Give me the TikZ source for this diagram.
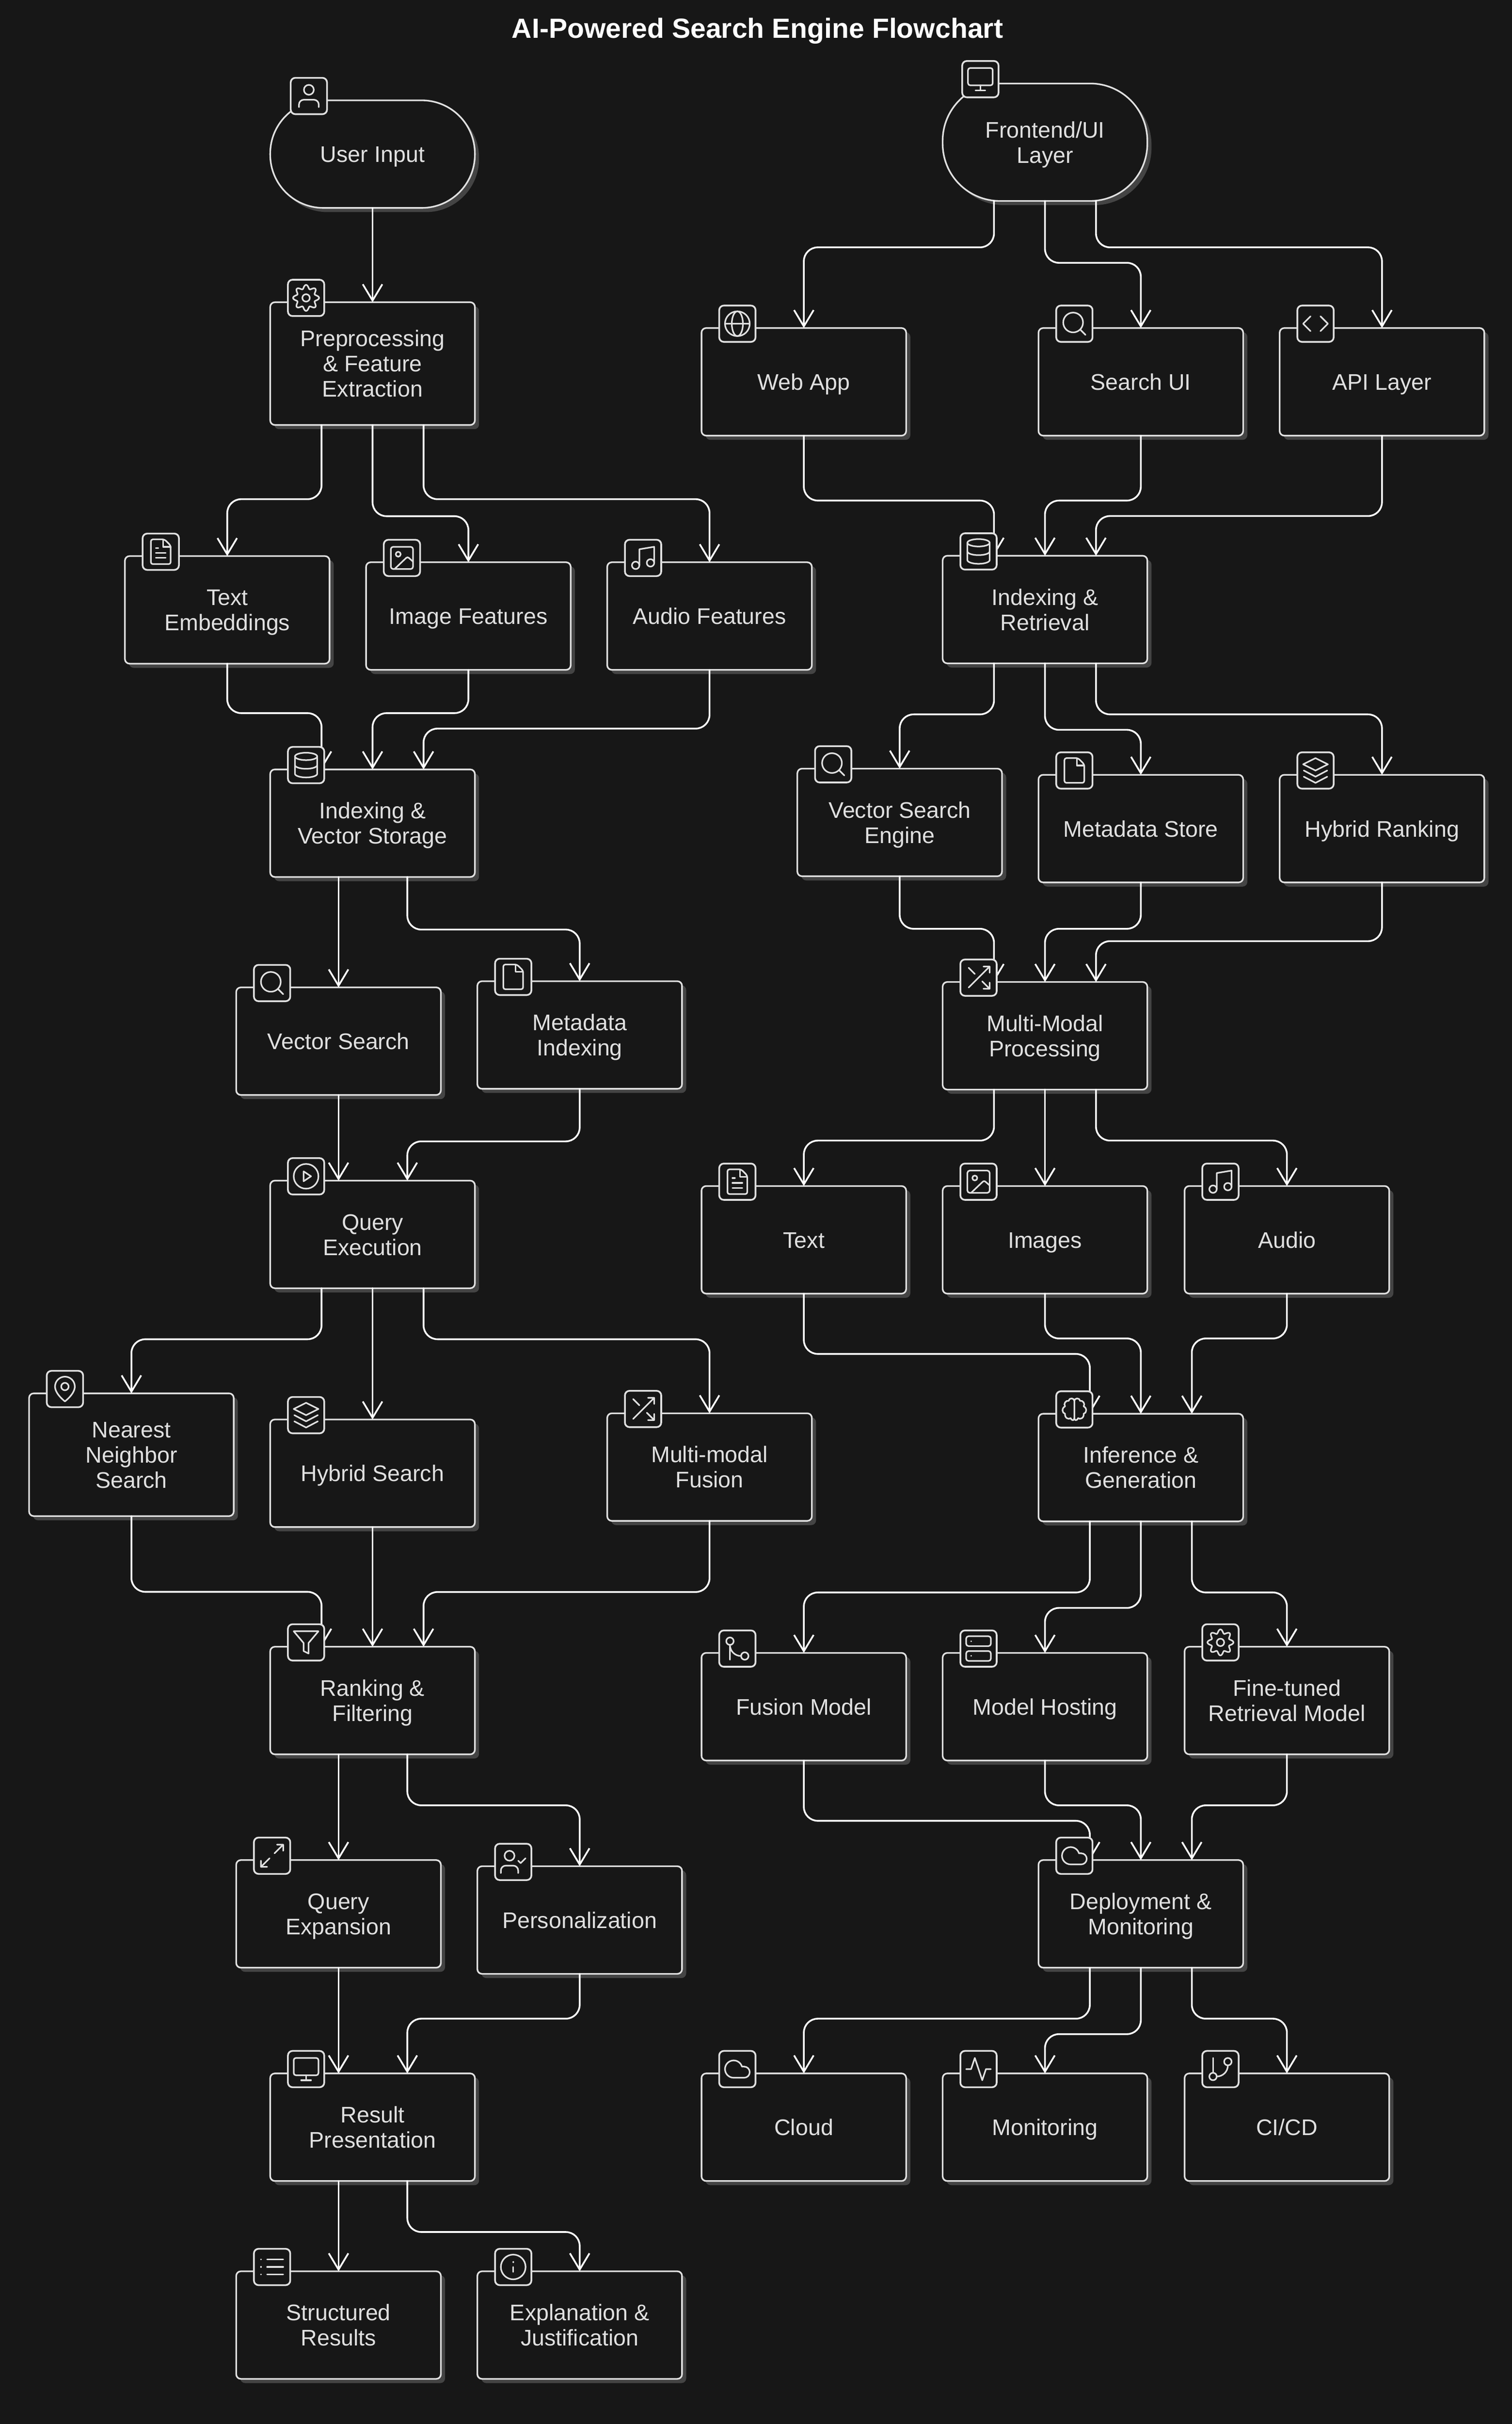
\documentclass[tikz,border=0pt]{standalone}
\usepackage{fontspec}
\setmainfont{Liberation Sans}
\usetikzlibrary{arrows.meta,shadows}
\definecolor{bgdark}{HTML}{171717}
\definecolor{inkline}{HTML}{E0E0E0}
\definecolor{shadegray}{HTML}{444444}
\newcommand{\captop}{\rule{0pt}{20pt}}
\newcommand{\capfoot}{\rule[-5pt]{0pt}{5pt}}
\tikzset{
  box/.style={draw=inkline, fill=bgdark, line width=1.5pt, rounded corners=.15cm, outer sep=0pt, inner sep=0pt,
    minimum width=6.62cm, minimum height=3.48cm, align=center, text=inkline,
    font=\fontsize{20.8}{23.2}\selectfont,
    execute at begin node=\captop, execute at end node=\capfoot,
    general shadow={fill=shadegray, shadow xshift=.135cm, shadow yshift=-.135cm}},
  tall/.style={minimum height=3.97cm},
  pill/.style={box, rounded corners=1.72cm},
  badge/.style={draw=inkline, fill=bgdark, line width=1.6pt, rounded corners=.15cm, outer sep=0pt,
    inner sep=0pt, minimum width=1.175cm, minimum height=1.175cm},
  flow/.style={draw=white, line width=1.6pt, line cap=round, rounded corners=.45cm, ->},
  glyph/.style={scale=.8, shift={(-12,-12)}, draw=inkline, line width=1.45pt, line cap=round, line join=round},
  pics/person/.style={code={
    \draw (12,7) circle (4);
    \draw[rounded corners=4.5pt] (4,21) -- (4,15) -- (20,15) -- (20,21);}},
  pics/gear/.style={code={
    \draw (12,12) circle (3);
    \draw[shift={(12,12)}, domain=0:360, samples=145, smooth] plot (\x:{9+1.5*cos(8*\x)}) -- cycle;}},
  pics/monitor/.style={code={
    \draw[rounded corners=2pt] (2,3) rectangle (22,17);
    \draw (8,21) -- (16,21) (12,17) -- (12,21);}},
  pics/globe/.style={code={
    \draw (12,12) circle (10) (2,12) -- (22,12);
    \draw (12,12) ellipse [x radius=4.5, y radius=10];}},
  pics/lens/.style={code={
    \draw (11,11) circle (8) (21,21) -- (16.65,16.65);}},
  pics/codemark/.style={code={
    \draw (16,18) -- (22,12) -- (16,6) (8,6) -- (2,12) -- (8,18);}},
  pics/page/.style={code={
    \draw[rounded corners=1.8pt] (15,2) -- (4,2) -- (4,22) -- (20,22) -- (20,7) -- cycle;
    \draw (14,2) -- (14,8) -- (20,8);}},
  pics/pagetext/.style={code={
    \draw[rounded corners=1.8pt] (15,2) -- (4,2) -- (4,22) -- (20,22) -- (20,7) -- cycle;
    \draw (14,2) -- (14,8) -- (20,8) (8,9) -- (10,9) (8,13) -- (16,13) (8,17) -- (16,17);}},
  pics/photo/.style={code={
    \draw[rounded corners=2.2pt] (3,3) rectangle (21,21);
    \draw (9,9) circle (2);
    \draw[rounded corners=1.5pt] (21,15) -- (16.5,11) -- (6,21);}},
  pics/music/.style={code={
    \draw (9,18) -- (9,5) -- (21,3) -- (21,16);
    \draw (6,18) circle (3) (18,16) circle (3);}},
  pics/dbase/.style={code={
    \draw (12,5) ellipse [x radius=9, y radius=3];
    \draw (3,5) -- (3,19) arc (180:0:9 and 3) -- (21,5);
    \draw (3,12) arc (180:0:9 and 3);}},
  pics/stack/.style={code={
    \draw (12,2) -- (22,7) -- (12,12) -- (2,7) -- cycle;
    \draw (2.5,12) -- (12,17) -- (21.5,12) (2.5,17) -- (12,22) -- (21.5,17);}},
  pics/shuffle/.style={code={
    \draw (4,20) -- (21,3) (16,3) -- (21,3) -- (21,8);
    \draw (4,4) -- (9,9) (15,15) -- (21,21) (21,16) -- (21,21) -- (16,21);}},
  pics/playround/.style={code={
    \draw (12,12) circle (10);
    \draw (10,8) -- (16,12) -- (10,16) -- cycle;}},
  pics/mappin/.style={code={
    \draw (20,10) .. controls (20,16) and (12,22) .. (12,22) .. controls (12,22) and (4,16) .. (4,10) arc (180:360:8) -- cycle;
    \draw (12,10) circle (3);}},
  pics/brain/.style={code={
    \draw (12,5) .. controls (12,3) and (16,2) .. (16.5,5) .. controls (19,4.5) and (21,7.5) .. (19.5,9.5)
      .. controls (22.5,11) and (22,15) .. (19.5,15.5) .. controls (20,19) and (16.5,20.5) .. (15,19)
      .. controls (14,21.5) and (12,21) .. (12,19) -- cycle;
    \draw (12,5) .. controls (12,3) and (8,2) .. (7.5,5) .. controls (5,4.5) and (3,7.5) .. (4.5,9.5)
      .. controls (1.5,11) and (2,15) .. (4.5,15.5) .. controls (4,19) and (7.5,20.5) .. (9,19)
      .. controls (10,21.5) and (12,21) .. (12,19);}},
  pics/funnel/.style={code={
    \draw (22,3) -- (2,3) -- (10,12.46) -- (10,19) -- (14,21) -- (14,12.46) -- cycle;}},
  pics/gitmerge/.style={code={
    \draw (18,18) circle (3) (6,6) circle (3);
    \draw (6,21) -- (6,9) .. controls (6,14) and (10,18) .. (15,18);}},
  pics/serverbox/.style={code={
    \draw[rounded corners=2.2pt] (2,2) rectangle (22,10);
    \draw[rounded corners=2.2pt] (2,14) rectangle (22,22);
    \draw (6,6) -- (6.1,6) (6,18) -- (6.1,18);}},
  pics/cloudy/.style={code={
    \draw (17.5,19) -- (9,19) arc (90:343.4:7) -- (17.5,10) arc (270:450:4.5) -- cycle;}},
  pics/expand/.style={code={
    \draw (14,10) -- (21,3) (16,3) -- (21,3) -- (21,8);
    \draw (10,14) -- (3,21) (3,16) -- (3,21) -- (8,21);}},
  pics/usercheck/.style={code={
    \draw (9,7) circle (4);
    \draw[rounded corners=4.5pt] (2,21) -- (2,15) -- (16,15) -- (16,21);
    \draw (16,11) -- (18,13) -- (22,9);}},
  pics/listing/.style={code={
    \draw (8,6) -- (21,6) (8,12) -- (21,12) (8,18) -- (21,18);
    \draw (3,6) -- (3.1,6) (3,12) -- (3.1,12) (3,18) -- (3.1,18);}},
  pics/infomark/.style={code={
    \draw (12,12) circle (10);
    \draw (12,16) -- (12,12) (12,8) -- (12.1,8);}},
  pics/pulse/.style={code={
    \draw (22,12) -- (18,12) -- (15,21) -- (9,3) -- (6,12) -- (2,12);}},
  pics/gitbranch/.style={code={
    \draw (6,3) -- (6,15);
    \draw (18,6) circle (3) (6,18) circle (3);
    \draw (18,9) .. controls (18,14) and (14,18) .. (9,18);}},
}
\newcommand{\badge}[3][1.16cm]{%
  \node (#2-b) at ([xshift=#1,yshift=.14cm]#2.north west) [badge] {};
  \pic at (#2-b) [glyph] {#3};}
\begin{document}
\begin{tikzpicture}[x=.05cm, y=-.05cm, >={Straight Barb[length=15pt,width=18pt]}]
\fill[bgdark] (0,0) rectangle (978.1,1568);
\node (title) at (490,20) [text=white, font=\fontsize{25.5}{28}\selectfont\bfseries] {AI-Powered Search Engine Flowchart};

% left column
\node (user) at (241,99.7) [pill] {User Input};
\node (prep) at (241,235.2) [box, tall] {\captop Preprocessing\\\& Feature\\Extraction\capfoot};
\node (txtemb) at (147,394.5) [box] {\captop Text\\Embeddings\capfoot};
\node (imgf) at (303,398.5) [box] {Image Features};
\node (audf) at (459,398.5) [box] {Audio Features};
\node (idxv) at (241,532.5) [box] {\captop Indexing \&\\Vector Storage\capfoot};
\node (vecs) at (219,673.5) [box] {Vector Search};
\node (meta) at (375,669.5) [box] {\captop Metadata\\Indexing\capfoot};
\node (qexe) at (241,798.5) [box] {\captop Query\\Execution\capfoot};
\node (near) at (85,941) [box, tall] {\captop Nearest\\Neighbor\\Search\capfoot};
\node (hyb) at (241,953) [box] {Hybrid Search};
\node (mfus) at (459,949) [box] {\captop Multi-modal\\Fusion\capfoot};
\node (rank) at (241,1100) [box] {\captop Ranking \&\\Filtering\capfoot};
\node (qexp) at (219,1238) [box] {\captop Query\\Expansion\capfoot};
\node (pers) at (375,1242) [box] {Personalization};
\node (res) at (241,1376) [box] {\captop Result\\Presentation\capfoot};
\node (struct) at (219,1504) [box] {\captop Structured\\Results\capfoot};
\node (expl) at (375,1504) [box] {\captop Explanation \&\\Justification\capfoot};

% right column
\node (front) at (676,92) [pill, minimum height=3.8cm, rounded corners=1.85cm] {\captop Frontend/UI\\Layer\capfoot};
\node (web) at (520,247) [box] {Web App};
\node (sui) at (738,247) [box] {Search UI};
\node (api) at (894,247) [box] {API Layer};
\node (idxr) at (676,394.3) [box] {\captop Indexing \&\\Retrieval\capfoot};
\node (vse) at (582,532) [box] {\captop Vector Search\\Engine\capfoot};
\node (mst) at (738,536) [box] {Metadata Store};
\node (hrk) at (894,536) [box] {Hybrid Ranking};
\node (mmp) at (676,670) [box] {\captop Multi-Modal\\Processing\capfoot};
\node (txt) at (520,802) [box] {Text};
\node (img) at (676,802) [box] {Images};
\node (aud) at (832.5,802) [box] {Audio};
\node (inf) at (738,949.3) [box] {\captop Inference \&\\Generation\capfoot};
\node (fus) at (520,1104) [box] {Fusion Model};
\node (host) at (676,1104) [box] {Model Hosting};
\node (fine) at (832.5,1100) [box] {\captop Fine-tuned\\Retrieval Model\capfoot};
\node (dep) at (738,1238) [box] {\captop Deployment \&\\Monitoring\capfoot};
\node (cld) at (520,1376) [box] {Cloud};
\node (mon) at (676,1376) [box] {Monitoring};
\node (cicd) at (832.5,1376) [box] {CI/CD};

% left column links
\draw[flow] (user.south) -- (prep.north);
\draw[flow] ([xshift=-1.65cm]prep.south) -- ++(0,48) -| (txtemb.north);
\draw[flow] (prep.south) -- ++(0,59) -| (imgf.north);
\draw[flow] ([xshift=1.65cm]prep.south) -- ++(0,48) -| (audf.north);
\draw[flow] (txtemb.south) -- ++(0,32) -| ([xshift=-1.65cm]idxv.north);
\draw[flow] (imgf.south) -- ++(0,28) -| (idxv.north);
\draw[flow] (audf.south) -- ++(0,38) -| ([xshift=1.65cm]idxv.north);
\draw[flow] (vecs.north |- idxv.south) -- (vecs.north);
\draw[flow] ([xshift=1.125cm]idxv.south) -- ++(0,34) -| (meta.north);
\draw[flow] (vecs.south) -- (vecs.south |- qexe.north);
\draw[flow] (meta.south) -- ++(0,34) -| ([xshift=1.125cm]qexe.north);
\draw[flow] ([xshift=-1.65cm]qexe.south) -- ++(0,33) -| (near.north);
\draw[flow] (qexe.south) -- (hyb.north);
\draw[flow] ([xshift=1.65cm]qexe.south) -- ++(0,33) -| (mfus.north);
\draw[flow] (near.south) -- ++(0,49) -| ([xshift=-1.65cm]rank.north);
\draw[flow] (hyb.south) -- (rank.north);
\draw[flow] (mfus.south) -- ++(0,46) -| ([xshift=1.65cm]rank.north);
\draw[flow] (qexp.north |- rank.south) -- (qexp.north);
\draw[flow] ([xshift=1.125cm]rank.south) -- ++(0,33) -| (pers.north);
\draw[flow] (qexp.south) -- (qexp.south |- res.north);
\draw[flow] (pers.south) -- ++(0,29) -| ([xshift=1.125cm]res.north);
\draw[flow] (struct.north |- res.south) -- (struct.north);
\draw[flow] ([xshift=1.125cm]res.south) -- ++(0,33) -| (expl.north);

% right column links
\draw[flow] ([xshift=-1.65cm]front.south) -- ++(0,30) -| (web.north);
\draw[flow] (front.south) -- ++(0,40) -| (sui.north);
\draw[flow] ([xshift=1.65cm]front.south) -- ++(0,30) -| (api.north);
\draw[flow] (web.south) -- ++(0,42) -| ([xshift=-1.65cm]idxr.north);
\draw[flow] (sui.south) -- ++(0,42) -| (idxr.north);
\draw[flow] (api.south) -- ++(0,52) -| ([xshift=1.65cm]idxr.north);
\draw[flow] ([xshift=-1.65cm]idxr.south) -- ++(0,33) -| (vse.north);
\draw[flow] (idxr.south) -- ++(0,43) -| (mst.north);
\draw[flow] ([xshift=1.65cm]idxr.south) -- ++(0,33) -| (hrk.north);
\draw[flow] (vse.south) -- ++(0,34) -| ([xshift=-1.65cm]mmp.north);
\draw[flow] (mst.south) -- ++(0,30) -| (mmp.north);
\draw[flow] (hrk.south) -- ++(0,38) -| ([xshift=1.65cm]mmp.north);
\draw[flow] ([xshift=-1.65cm]mmp.south) -- ++(0,33) -| (txt.north);
\draw[flow] (mmp.south) -- (img.north);
\draw[flow] ([xshift=1.65cm]mmp.south) -- ++(0,33) -| (aud.north);
\draw[flow] (txt.south) -- ++(0,39) -| ([xshift=-1.65cm]inf.north);
\draw[flow] (img.south) -- ++(0,29) -| (inf.north);
\draw[flow] (aud.south) -- ++(0,29) -| ([xshift=1.65cm]inf.north);
\draw[flow] ([xshift=-1.65cm]inf.south) -- ++(0,46) -| (fus.north);
\draw[flow] (inf.south) -- ++(0,56) -| (host.north);
\draw[flow] ([xshift=1.65cm]inf.south) -- ++(0,46) -| (fine.north);
\draw[flow] (fus.south) -- ++(0,39) -| ([xshift=-1.65cm]dep.north);
\draw[flow] (host.south) -- ++(0,29) -| (dep.north);
\draw[flow] (fine.south) -- ++(0,33) -| ([xshift=1.65cm]dep.north);
\draw[flow] ([xshift=-1.65cm]dep.south) -- ++(0,33) -| (cld.north);
\draw[flow] (dep.south) -- ++(0,43) -| (mon.north);
\draw[flow] ([xshift=1.65cm]dep.south) -- ++(0,33) -| (cicd.north);

% icons sit over the links
\badge[1.25cm]{user}{person}
\badge{prep}{gear}
\badge{txtemb}{pagetext}
\badge{imgf}{photo}
\badge{audf}{music}
\badge{idxv}{dbase}
\badge{vecs}{lens}
\badge{meta}{page}
\badge{qexe}{playround}
\badge{near}{mappin}
\badge{hyb}{stack}
\badge{mfus}{shuffle}
\badge{rank}{funnel}
\badge{qexp}{expand}
\badge{pers}{usercheck}
\badge{res}{monitor}
\badge{struct}{listing}
\badge{expl}{infomark}
\badge[1.22cm]{front}{monitor}
\badge{web}{globe}
\badge{sui}{lens}
\badge{api}{codemark}
\badge{idxr}{dbase}
\badge{vse}{lens}
\badge{mst}{page}
\badge{hrk}{stack}
\badge{mmp}{shuffle}
\badge{txt}{pagetext}
\badge{img}{photo}
\badge{aud}{music}
\badge{inf}{brain}
\badge{fus}{gitmerge}
\badge{host}{serverbox}
\badge{fine}{gear}
\badge{dep}{cloudy}
\badge{cld}{cloudy}
\badge{mon}{pulse}
\badge{cicd}{gitbranch}
\end{tikzpicture}
\end{document}
